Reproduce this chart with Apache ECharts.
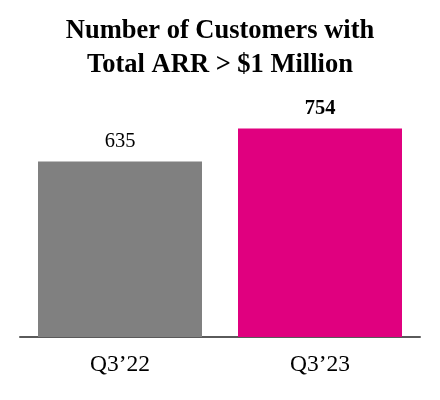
<!DOCTYPE html>
<html><head><meta charset="utf-8">
<script src="https://cdn.jsdelivr.net/npm/echarts@6/dist/echarts.min.js"></script>
<style>html,body{margin:0;padding:0;background:#fff}#c{width:440px;height:400px}</style>
</head><body><div id="c"></div>
<script>
const categories = ['Q3\u201922', 'Q3\u201923'];
const values = [635, 754];
const barColors = ['#808080', '#E0007F'];
const labelWeights = ['normal', 'bold'];

const chart = echarts.init(document.getElementById('c'), null, {renderer: 'canvas'});
chart.setOption({
  animation: false,
  title: {
    text: 'Number of Customers with\nTotal ARR > $1 Million',
    left: 'center', top: 9,
    textStyle: {fontFamily: 'Liberation Serif', fontWeight: 'bold', fontSize: 26.5, lineHeight: 34, color: '#000'}
  },
  grid: {left: 20, right: 20, top: 120, bottom: 63},
  xAxis: {
    type: 'category', data: categories,
    axisLine: {lineStyle: {color: '#5a5a5a', width: 2}},
    axisTick: {show: false},
    axisLabel: {fontFamily: 'Liberation Serif', fontSize: 23.5, color: '#000', margin: 16}
  },
  yAxis: {type: 'value', min: 0, max: 785, show: false, splitLine: {show: false}},
  series: [{
    type: 'bar', barWidth: '82%',
    data: values.map((v, i) => ({
      value: v,
      itemStyle: {color: barColors[i]},
      label: {fontWeight: labelWeights[i]}
    })),
    label: {show: true, position: 'top', distance: 9, fontFamily: 'Liberation Serif', fontSize: 20.5, color: '#000'}
  }]
});
</script></body></html>
